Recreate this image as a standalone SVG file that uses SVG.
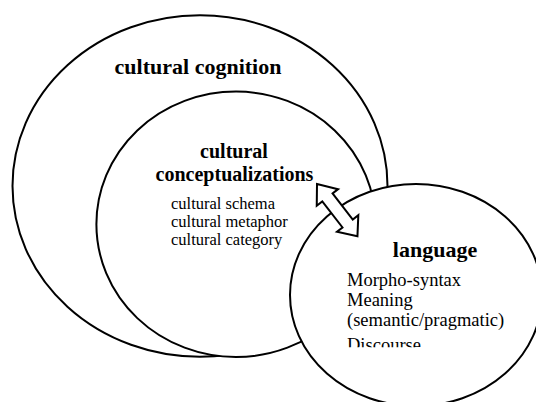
<svg xmlns="http://www.w3.org/2000/svg" width="536" height="402" viewBox="0 0 536 402">
<style>
.c{fill:#fff;stroke:#000;stroke-width:2}
.b{font-family:'Liberation Serif','DejaVu Serif',serif;font-weight:bold;fill:#000}
.r{font-family:'Liberation Serif','DejaVu Serif',serif;fill:#000}
</style>
<defs><clipPath id="clipL"><rect x="290" y="190" width="246" height="157.3"/></clipPath></defs>
<rect width="536" height="402" fill="#fff"/>
<g id="cognition">
<ellipse class="c" cx="200" cy="186" rx="187.5" ry="170.7"/>
<text class="b" x="198" y="73.5" font-size="22" text-anchor="middle">cultural cognition</text>
</g>
<g id="conceptualizations">
<ellipse class="c" cx="236" cy="224.3" rx="139.6" ry="132.7"/>
<text class="b" x="234" y="158" font-size="20" text-anchor="middle">cultural</text>
<text class="b" x="234.5" y="180.5" font-size="20" text-anchor="middle">conceptualizations</text>
<text class="r" x="171" y="208.5" font-size="16.5">cultural schema</text>
<text class="r" x="171" y="226.5" font-size="16.5">cultural metaphor</text>
<text class="r" x="171" y="244.5" font-size="16.5">cultural category</text>
</g>
<g id="language">
<ellipse class="c" cx="416" cy="295" rx="126" ry="111"/>
<text class="b" x="435" y="257" font-size="22" text-anchor="middle">language</text>
<g clip-path="url(#clipL)">
<text class="r" x="347" y="285.5" font-size="18.5">Morpho-syntax</text>
<text class="r" x="347" y="305.5" font-size="18.5">Meaning</text>
<text class="r" x="347" y="325.5" font-size="18.5">(semantic/pragmatic)</text>
<text class="r" x="347" y="351" font-size="18.5">Discourse</text>
</g>
</g>
<g id="connectors">
<path class="c" transform="translate(317,184) rotate(52.2)" d="M0,0 L17,-13.5 L17,-6.5 L50,-6.5 L50,-13.5 L66,0 L50,13.5 L50,6.5 L17,6.5 L17,13.5 Z" stroke-linejoin="miter"/>
</g>
</svg>
